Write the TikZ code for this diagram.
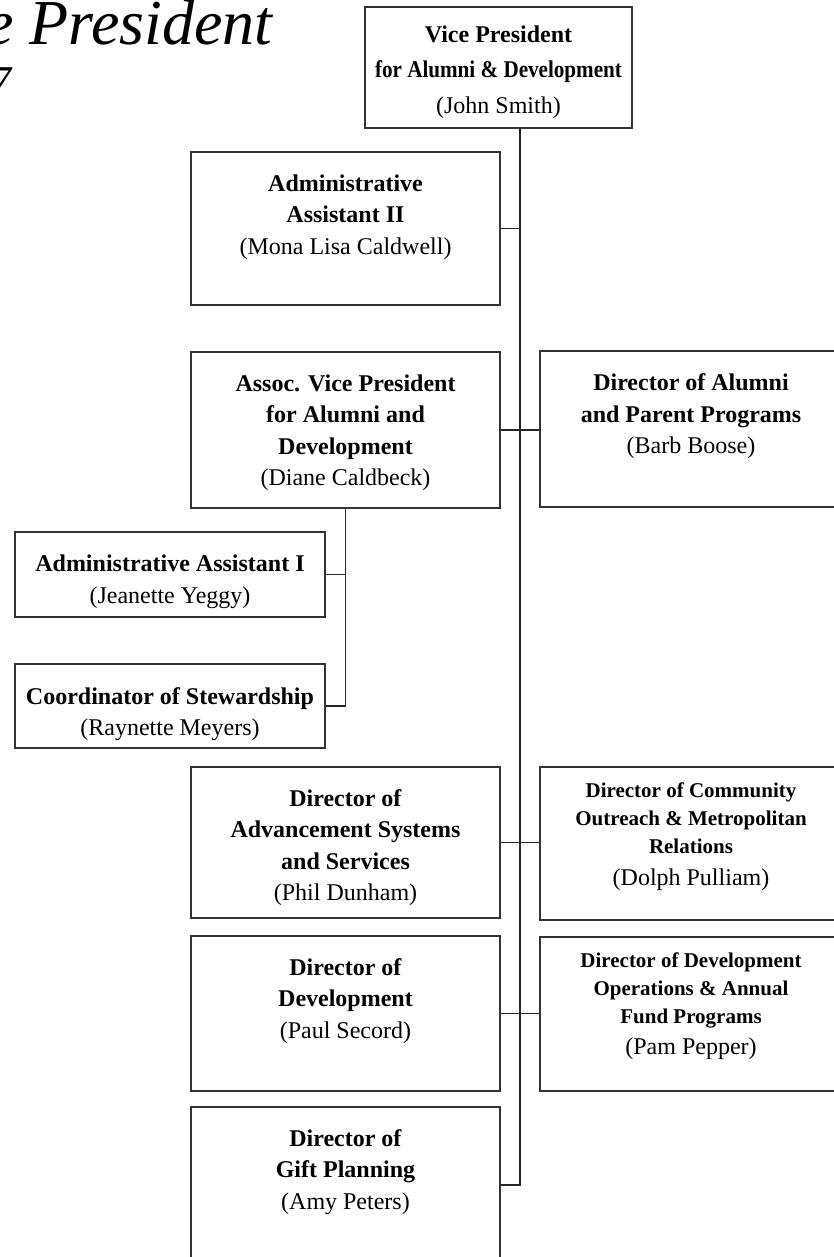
\documentclass[tikz,border=0pt]{standalone}
\usepackage{fontspec}
\setmainfont{Liberation Serif}
\usepackage{graphicx}
\begin{document}
\begin{tikzpicture}[x=0.5pt, y=-0.5pt,
	box/.style={draw=black!80, line width=0.6pt, inner sep=0pt, fill=white},
	txt/.style={anchor=north, inner sep=0pt, align=center, font=\fontsize{12}{15.75}\selectfont},
	small/.style={anchor=north, inner sep=0pt, align=center, font=\fontsize{10.5}{14}\selectfont},
	link/.style={draw=black!85, line width=0.65pt},
	title/.style={inner sep=0pt, font=\fontsize{32}{38}\selectfont\itshape}]
	\useasboundingbox (0,0) rectangle (834,1257);
	\clip (0,0) rectangle (834,1257);
% Title (cut off at the left)
				\node[title, anchor=base east] (heading) at (273,45) {Vice President};
				\node[title, anchor=base east, font=\fontsize{22}{26}\selectfont\itshape] (year) at (12,97) {7};
% Boxes
				\node[box, minimum width=133.5pt, minimum height=60.5pt] (vp) at (498.5,67.5) {};
				\node[box, minimum width=154.5pt, minimum height=76.5pt] (asst2) at (345.5,228.5) {};
				\node[box, minimum width=154.5pt, minimum height=78pt] (avp) at (345.5,430) {};
				\node[box, minimum width=151pt, minimum height=78pt] (alumni) at (691,429) {};
				\node[box, minimum width=155pt, minimum height=42.5pt] (asst1) at (170,574.5) {};
				\node[box, minimum width=155pt, minimum height=42pt] (steward) at (170,706) {};
				\node[box, minimum width=154.5pt, minimum height=75.5pt] (systems) at (345.5,842.5) {};
				\node[box, minimum width=151pt, minimum height=76.5pt] (outreach) at (691,843.5) {};
				\node[box, minimum width=154.5pt, minimum height=77.5pt] (devel) at (345.5,1013.5) {};
				\node[box, minimum width=151pt, minimum height=77pt] (annual) at (691,1014) {};
				\node[box, minimum width=154.5pt, minimum height=78pt] (gift) at (345.5,1185) {};
% Texts
				\node[txt, font=\fontsize{12}{17.75}\selectfont] (vp-t) at ([yshift=-9.5pt]vp.north) {\textbf{Vice President}\\\scalebox{0.88}[1]{\textbf{for Alumni \& Development}}\\(John Smith)};
				\node[txt] (asst2-t) at ([yshift=-11.5pt]asst2.north) {\textbf{Administrative}\\\textbf{Assistant II}\\(Mona Lisa Caldwell)};
				\node[txt] (avp-t) at ([yshift=-11.5pt]avp.north) {\textbf{Assoc. Vice President}\\\textbf{for Alumni and}\\\textbf{Development}\\(Diane Caldbeck)};
				\node[txt] (alumni-t) at ([yshift=-11.5pt]alumni.north) {\textbf{Director of Alumni}\\\textbf{and Parent Programs}\\(Barb Boose)};
				\node[txt] (asst1-t) at ([yshift=-11.75pt]asst1.north) {\textbf{Administrative Assistant I}\\(Jeanette Yeggy)};
				\node[txt] (steward-t) at ([yshift=-11.75pt]steward.north) {\textbf{Coordinator of Stewardship}\\(Raynette Meyers)};
				\node[txt] (systems-t) at ([yshift=-11.25pt]systems.north) {\textbf{Director of}\\\textbf{Advancement Systems}\\\textbf{and Services}\\(Phil Dunham)};
				\node[small] (outreach-t) at ([yshift=-8pt]outreach.north) {\textbf{Director of Community}\\\textbf{Outreach \& Metropolitan}\\\textbf{Relations}\\[2pt]{\fontsize{12}{15}\selectfont(Dolph Pulliam)}};
				\node[txt] (devel-t) at ([yshift=-11.25pt]devel.north) {\textbf{Director of}\\\textbf{Development}\\(Paul Secord)};
				\node[small] (annual-t) at ([yshift=-8pt]annual.north) {\textbf{Director of Development}\\\textbf{Operations \& Annual}\\\textbf{Fund Programs}\\[1.5pt]{\fontsize{12}{15}\selectfont(Pam Pepper)}};
				\node[txt] (gift-t) at ([yshift=-11.25pt]gift.north) {\textbf{Director of}\\\textbf{Gift Planning}\\(Amy Peters)};
% Main trunk
				\coordinate (trunk) at (520,128);
				\draw[link] (trunk) -- (trunk |- gift.east) -- (gift.east);
				\draw[link] (asst2.east) -- (asst2.east -| trunk);
				\draw[link] (avp.east) -- (avp.east -| alumni.west);
				\draw[link] (systems.east) -- (systems.east -| outreach.west);
				\draw[link] (devel.east) -- (devel.east -| annual.west);
% Branch under the associate
				\draw[link] (avp.south) -- (avp.south |- steward.east) -- (steward.east);
				\draw[link] (asst1.east) -- (asst1.east -| avp.south);
			\end{tikzpicture}
\end{document}
